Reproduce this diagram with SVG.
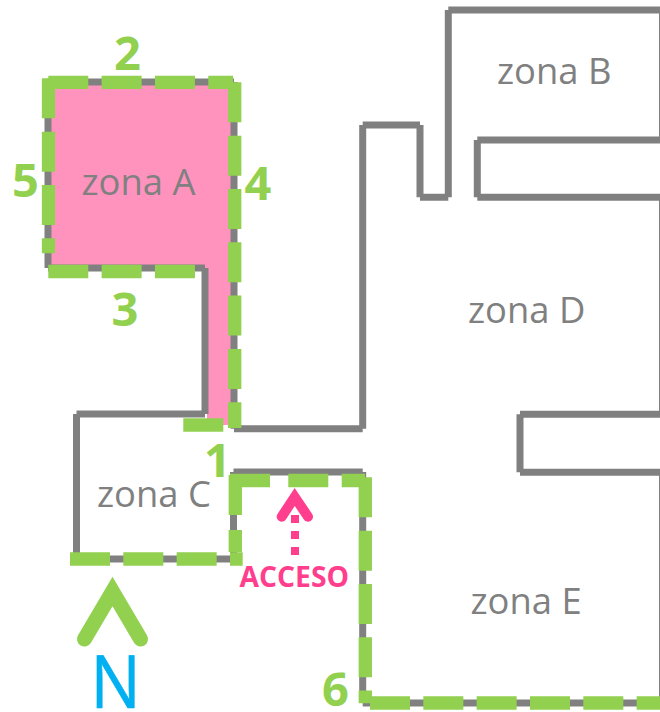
<svg xmlns="http://www.w3.org/2000/svg" width="660" height="712" viewBox="0 0 660 712">
<style>
text{font-family:"Open Sans","Noto Sans","Liberation Sans",sans-serif}
.wall{fill:none;stroke:#808080;stroke-width:7}
.edge{fill:none;stroke:#808080;stroke-width:2}
.dash{fill:none;stroke:#92D050;stroke-width:13.3;stroke-dasharray:40 13.33}
.zone{font-size:36.400px;fill:#808080}
.num{font-size:47px;font-weight:700;fill:#92D050}
</style>
<rect width="660" height="712" fill="#fff"/>
<g id="zona-a">
<path d="M48 82H234V425H207V268H48Z" fill="#FF93BE"/>
<text class="zone" x="81.500" y="194.500">zona A</text>
</g>
<g id="zona-b"><text class="zone" x="497" y="84">zona B</text></g>
<g id="zona-c"><text class="zone" x="97" y="506.500">zona C</text></g>
<g id="zona-d"><text class="zone" x="468" y="322.500">zona D</text></g>
<g id="zona-e"><text class="zone" x="470.500" y="614">zona E</text></g>
<g id="connectors">
<path class="wall" d="M234 82H48M48 82V268M48 268H205M205 268V414M205 414H76.500M76.500 414V559M76.500 559H233.500M233.500 559V472M233.500 472H362.700M362.700 472V703M362.700 703H660"/>
<path class="wall" d="M234 82V428.700M234 428.700H362.700M362.700 428.700V125M362.700 125H420M420 125V197.300M420 197.300H448.300M448.300 197.300V10M448.300 10H660"/>
<path class="wall" d="M660 140H477.300M477.300 140V197.300M477.300 197.300H660"/>
<path class="wall" d="M660 414.300H520M520 414.300V472.300M520 472.300H660"/>
<path class="edge" d="M660 10V140M660 197V414M660 472V703"/>
<path class="dash" d="M48.300 82.300H233"/>
<path class="dash" d="M48.500 78.300V253.300"/>
<path class="dash" d="M234.700 82.300V428"/>
<path class="dash" d="M48.300 271.500H195"/>
<path class="dash" d="M183.300 425H223.300"/>
<path class="dash" d="M70 559H242.700"/>
<path class="dash" d="M235.300 475V516.700M235.300 530V552"/>
<path class="dash" d="M230 480.500H275M288.300 480.500H328.300M341.700 480.500H365"/>
<path class="dash" d="M365.300 477.300V703.300"/>
<path class="dash" d="M370 703H660"/>
</g>
<g id="labels">
<text class="num" x="114" y="70">2</text>
<text class="num" x="12" y="196.700">5</text>
<text class="num" x="244.500" y="200">4</text>
<text class="num" x="111.500" y="326">3</text>
<text class="num" x="204" y="477">1</text>
<text class="num" x="322" y="706">6</text>
</g>
<g id="north">
<path d="M84.500 639L112.500 591.500L140.500 639" fill="none" stroke="#92D050" stroke-width="15" stroke-linecap="round" stroke-linejoin="miter"/>
<text transform="translate(90.500 708) scale(.9 1)" font-size="74" fill="#00B0F0" stroke="#00B0F0" stroke-width=".7">N</text>
</g>
<g id="acceso">
<path d="M281.700 516.700L294.700 497L308 516.700" fill="none" stroke="#FF3E8E" stroke-width="10" stroke-linecap="round" stroke-linejoin="miter"/>
<path d="M295 515V555" fill="none" stroke="#FF3E8E" stroke-width="8" stroke-dasharray="8 8"/>
<text x="239.500" y="587" font-size="28.300" font-weight="700" fill="#FF3E8E">ACCESO</text>
</g>
</svg>
